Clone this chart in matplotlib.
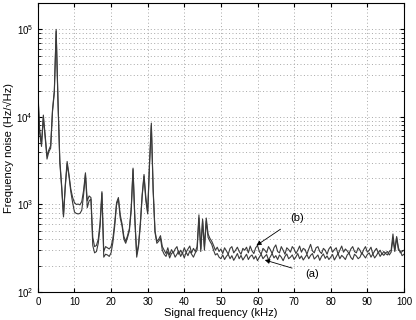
import numpy as np
import matplotlib
matplotlib.use("Agg")
import matplotlib.pyplot as plt

# signal frequency grid (kHz), 0.5 kHz step
freq = np.arange(0, 100.5, 0.5)

# curve (b): upper trace in the flat region
noise_b = [
    20000, 7000, 5000, 10500, 6200, 3600, 4200, 4700, 12000, 20000,
    100000, 15500, 3200, 1650, 760, 1700, 3100, 2200, 1500, 1200,
    1050, 1000, 1010, 990, 1080, 1450, 2300, 1100, 1250, 1200,
    420, 330, 340, 400, 620, 1400, 290, 330, 320, 310,
    330, 410, 620, 1050, 1200, 760, 600, 430, 380, 440,
    530, 900, 2600, 700, 270, 350, 620, 1300, 2200, 1200,
    820, 3000, 8500, 1500, 500, 380, 400, 440, 330, 300,
    275, 320, 265, 305, 280, 310, 330, 270, 300, 275,
    320, 285, 310, 335, 280, 315, 290, 330, 760, 310,
    680, 330, 700, 460, 410, 380, 340, 300, 325, 290,
    310, 275, 320, 295, 270, 315, 330, 280, 300, 325,
    290, 270, 315, 300, 325, 280, 335, 295, 275, 320,
    340, 290, 270, 315, 300, 280, 330, 305, 275, 320,
    345, 290, 280, 330, 300, 270, 320, 305, 285, 330,
    310, 275, 300, 335, 285, 315, 305, 270, 310, 350,
    295, 280, 320, 330, 290, 275, 315, 300, 270, 310,
    330, 285, 305, 320, 270, 300, 335, 285, 310, 295,
    275, 310, 330, 290, 280, 320, 300, 270, 305, 330,
    285, 300, 325, 270, 295, 315, 280, 300, 270, 290,
    275, 265, 290, 300, 460, 300, 430, 320, 280, 290,
    300,
]

# curve (a): lower trace in the flat region
noise_a = [
    19000, 6500, 4600, 9800, 5800, 3300, 4000, 4400, 11500, 19000,
    95000, 14500, 3000, 1550, 720, 1600, 2900, 2100, 1400, 1050,
    820, 790, 780, 790, 860, 1300, 2200, 920, 1100, 1150,
    340, 280, 290, 360, 560, 1350, 250, 270, 265, 255,
    280, 370, 570, 1000, 1150, 700, 570, 400, 360, 420,
    500, 860, 2500, 650, 250, 330, 580, 1250, 2100, 1100,
    780, 2800, 8000, 1400, 480, 360, 380, 410, 300, 270,
    255, 290, 245, 275, 285, 250, 270, 295, 255, 280,
    245, 285, 260, 295, 270, 250, 280, 300, 700, 290,
    650, 300, 650, 420, 380, 350, 300, 265, 275, 250,
    240, 265, 235, 255, 270, 240, 260, 230, 250, 275,
    240, 262, 232, 250, 270, 235, 255, 265, 238, 258,
    228, 250, 270, 240, 255, 268, 232, 252, 275, 245,
    260, 235, 265, 250, 228, 255, 272, 240, 250, 265,
    235, 252, 275, 240, 258, 232, 250, 268, 240, 262,
    275, 238, 250, 265, 230, 255, 272, 242, 258, 235,
    250, 268, 232, 252, 275, 240, 262, 250, 235, 265,
    278, 248, 235, 270, 258, 240, 250, 280, 262, 245,
    268, 280, 250, 272, 245, 262, 285, 255, 275, 262,
    280, 290, 265, 285, 400, 290, 420, 300, 295, 260,
    270,
]

x_ticks = [0, 10, 20, 30, 40, 50, 60, 70, 80, 90, 100]

plt.rcParams['font.family'] = ['Liberation Sans', 'DejaVu Sans']

fig = plt.figure(figsize=(4.16, 3.2), dpi=100)
ax = fig.add_axes([0.091, 0.0875, 0.880, 0.903])

ax.plot(freq, noise_b, color='#3a3a3a', lw=0.8)
ax.plot(freq, noise_a, color='#3a3a3a', lw=0.8)

ax.set_yscale('log')
ax.set_xlim(0, 100)
ax.set_ylim(100, 2e5)
ax.set_xticks(x_ticks)

grid_style = dict(linestyle=(0, (1, 2.5)), color='#a8a8a8', lw=0.7)
ax.grid(True, which='major', **grid_style)
ax.grid(True, which='minor', axis='y', **grid_style)
ax.tick_params(which='both', direction='in', top=True, right=True, labelsize=7)
ax.tick_params(which='major', length=3)
ax.tick_params(which='minor', length=2)

ax.set_xlabel('Signal frequency (kHz)', fontsize=8, labelpad=1)
ax.set_ylabel('Frequency noise (Hz/\u221aHz)', fontsize=8, labelpad=2)

ax.annotate('(b)', xy=(59.7, 340), xytext=(70.8, 700), fontsize=8,
            ha='center', va='center',
            arrowprops=dict(arrowstyle='-|>', color='black', lw=0.6,
                            mutation_scale=7, shrinkA=6, shrinkB=0))
ax.annotate('(a)', xy=(62, 232), xytext=(75, 160), fontsize=8,
            ha='center', va='center',
            arrowprops=dict(arrowstyle='-|>', color='black', lw=0.6,
                            mutation_scale=7, shrinkA=8, shrinkB=0))

fig.savefig('out.png', dpi=100)
